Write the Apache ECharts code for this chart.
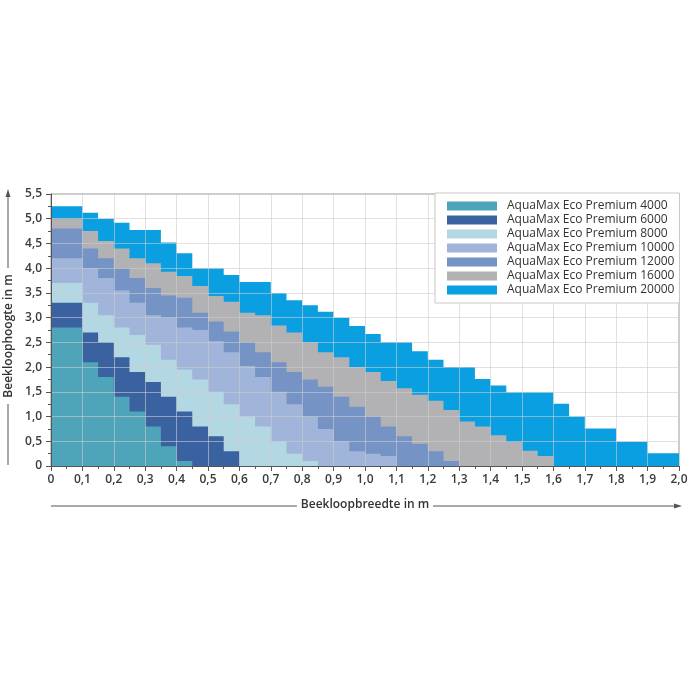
<!DOCTYPE html>
<html>
<head>
<meta charset="utf-8">
<script src="https://cdn.jsdelivr.net/npm/echarts@6/dist/echarts.min.js"></script>
<style>
html,body{margin:0;padding:0;background:#fff;}
#chart{width:700px;height:700px;}
</style>
</head>
<body>
<div id="chart"></div>
<script>
// Step boundaries along the width axis (m)
const xSteps = [0,0.05,0.1,0.15,0.2,0.25,0.3,0.35,0.4,0.45,0.5,0.55,0.6,0.65,0.7,0.75,0.8,0.85,0.9,0.95,1.0,
                1.05,1.1,1.15,1.2,1.25,1.3,1.35,1.4,1.45,1.5,1.55,1.6,1.65,1.7,1.75,1.8,1.85,1.9,1.95,2.0];

const seriesNames = ['AquaMax Eco Premium 4000','AquaMax Eco Premium 6000','AquaMax Eco Premium 8000',
  'AquaMax Eco Premium 10000','AquaMax Eco Premium 12000','AquaMax Eco Premium 16000','AquaMax Eco Premium 20000'];

// heights (m) per 0.05 m width step
const pump4000  = [2.8,2.8,2.1,1.8,1.4,1.1,0.8,0.4,0.1];
const pump6000  = [3.3,3.3,2.7,2.5,2.2,1.9,1.7,1.4,1.1,0.8,0.6,0.3];
const pump8000  = [3.7,3.7,3.3,3.05,2.8,2.65,2.45,2.15,1.95,1.75,1.5,1.25,1.0,0.8,0.5,0.25,0.1];
const pump10000 = [4.2,4.2,4.0,3.8,3.55,3.3,3.05,3.0,2.8,2.75,2.52,2.3,2.02,1.8,1.5,1.25,1.0,0.75,0.5,0.3,0.25,0.2];
const pump12000 = [4.8,4.8,4.4,4.2,4.0,3.8,3.6,3.45,3.4,3.1,2.92,2.72,2.5,2.3,2.1,1.9,1.75,1.6,1.4,1.2,1.0,0.8,0.6,0.45,0.3,0.1];
const pump16000 = [5.0,5.0,4.75,4.55,4.4,4.2,4.1,3.93,3.84,3.64,3.44,3.32,3.1,3.05,2.84,2.7,2.5,2.3,2.2,2.0,1.9,1.72,1.57,1.44,1.32,1.13,0.9,0.8,0.62,0.49,0.31,0.2];
const pump20000 = [5.25,5.25,5.12,5.0,4.92,4.77,4.77,4.52,4.3,4.0,4.0,3.86,3.72,3.72,3.5,3.35,3.25,3.12,3.0,2.83,2.67,2.5,2.5,2.32,2.15,2.0,2.0,1.76,1.63,1.49,1.49,1.49,1.26,1.0,0.76,0.76,0.49,0.49,0.26,0.26];

const xTicks = ['0','0,1','0,2','0,3','0,4','0,5','0,6','0,7','0,8','0,9','1,0','1,1','1,2','1,3','1,4','1,5','1,6','1,7','1,8','1,9','2,0'];
const yTicks = ['0','0,5','1,0','1,5','2,0','2,5','3,0','3,5','4,0','4,5','5,0','5,5'];

const colors = ['#4ea4b9','#3b62a0','#b4d8e3','#a0b5d9','#7594c5','#b2b2b4','#0a9fe0'];
const allValues = [pump4000,pump6000,pump8000,pump10000,pump12000,pump16000,pump20000];

function stepData(vals){
  const d = vals.map((h,i)=>[xSteps[i], h]);
  d.push([xSteps[vals.length], 0]);
  return d;
}

const series = [];
for (let k = allValues.length - 1; k >= 0; k--) {
  series.push({
    name: seriesNames[k],
    type: 'line',
    step: 'end',
    data: stepData(allValues[k]),
    showSymbol: false,
    symbol: 'none',
    lineStyle: {width: 0, color: colors[k]},
    itemStyle: {color: colors[k]},
    areaStyle: {color: colors[k], opacity: 1},
    z: 2,
    silent: true
  });
}

const chart = echarts.init(document.getElementById('chart'), null, {renderer: 'canvas'});
const FONT = '"Open Sans", "Noto Sans", sans-serif';
const G = {left: 51, top: 194, width: 628, height: 272};

chart.setOption({
  animation: false,
  backgroundColor: '#ffffff',
  textStyle: {fontFamily: FONT},
  grid: {left: G.left, top: G.top, width: G.width, height: G.height, show: true,
         borderColor: '#9a9a9a', borderWidth: 1, backgroundColor: 'transparent'},
  legend: {
    data: seriesNames,
    orient: 'vertical',
    left: 435, top: 193,
    itemWidth: 50, itemHeight: 9, itemGap: 0,
    icon: 'rect',
    padding: [6, 5, 6, 12],
    backgroundColor: '#ffffff',
    borderColor: '#c8c8c8', borderWidth: 1, borderRadius: 0,
    z: 10,
    textStyle: {fontFamily: FONT, fontSize: 12, color: '#333', lineHeight: 14, padding: [0,0,0,5]}
  },
  xAxis: {
    type: 'value', min: 0, max: 2, interval: 0.1, z: 3,
    axisLine: {show: true, onZero: false, lineStyle: {color: '#555', width: 1}},
    axisTick: {show: true, length: 5, lineStyle: {color: '#555'}},
    minorTick: {show: true, splitNumber: 2, length: 3, lineStyle: {color: '#555'}},
    splitLine: {show: true, lineStyle: {color: 'rgba(205,205,205,0.6)', width: 1}},
    axisLabel: {margin: 8, fontSize: 12, fontWeight: 600, color: '#3a3a3a', fontFamily: FONT,
      formatter: function(v){ return xTicks[Math.round(v*10)]; }}
  },
  yAxis: {
    type: 'value', min: 0, max: 5.5, interval: 0.5, z: 3,
    axisLine: {show: true, onZero: false, lineStyle: {color: '#555', width: 1}},
    axisTick: {show: true, length: 5, lineStyle: {color: '#555'}},
    minorTick: {show: true, splitNumber: 2, length: 3, lineStyle: {color: '#555'}},
    splitLine: {show: true, lineStyle: {color: 'rgba(205,205,205,0.6)', width: 1}},
    axisLabel: {margin: 9, fontSize: 12, fontWeight: 600, color: '#3a3a3a', fontFamily: FONT,
      formatter: function(v){ return yTicks[Math.round(v*2)]; }}
  },
  graphic: [
    // y axis title with arrow
    {type: 'line', shape: {x1: 8, y1: 197, x2: 8, y2: 268}, style: {stroke: '#555', lineWidth: 1}},
    {type: 'line', shape: {x1: 8, y1: 404, x2: 8, y2: 465}, style: {stroke: '#555', lineWidth: 1}},
    {type: 'polygon', shape: {points: [[8,189],[5.5,197],[10.5,197]]}, style: {fill: '#555'}},
    {type: 'text', x: 9, y: 336, rotation: Math.PI/2,
     style: {text: 'Beekloophoogte in m', fontFamily: FONT, fontSize: 12, fontWeight: 600, fill: '#333',
             align: 'center', verticalAlign: 'middle'}},
    // x axis title with arrow
    {type: 'line', shape: {x1: 51, y1: 506, x2: 297, y2: 506}, style: {stroke: '#555', lineWidth: 1}},
    {type: 'line', shape: {x1: 433, y1: 506, x2: 675, y2: 506}, style: {stroke: '#555', lineWidth: 1}},
    {type: 'polygon', shape: {points: [[682,506],[674,503.5],[674,508.5]]}, style: {fill: '#555'}},
    {type: 'text', x: 365, y: 505,
     style: {text: 'Beekloopbreedte in m', fontFamily: FONT, fontSize: 12, fontWeight: 600, fill: '#333',
             align: 'center', verticalAlign: 'middle'}}
  ],
  series: series
});
</script>
</body>
</html>
